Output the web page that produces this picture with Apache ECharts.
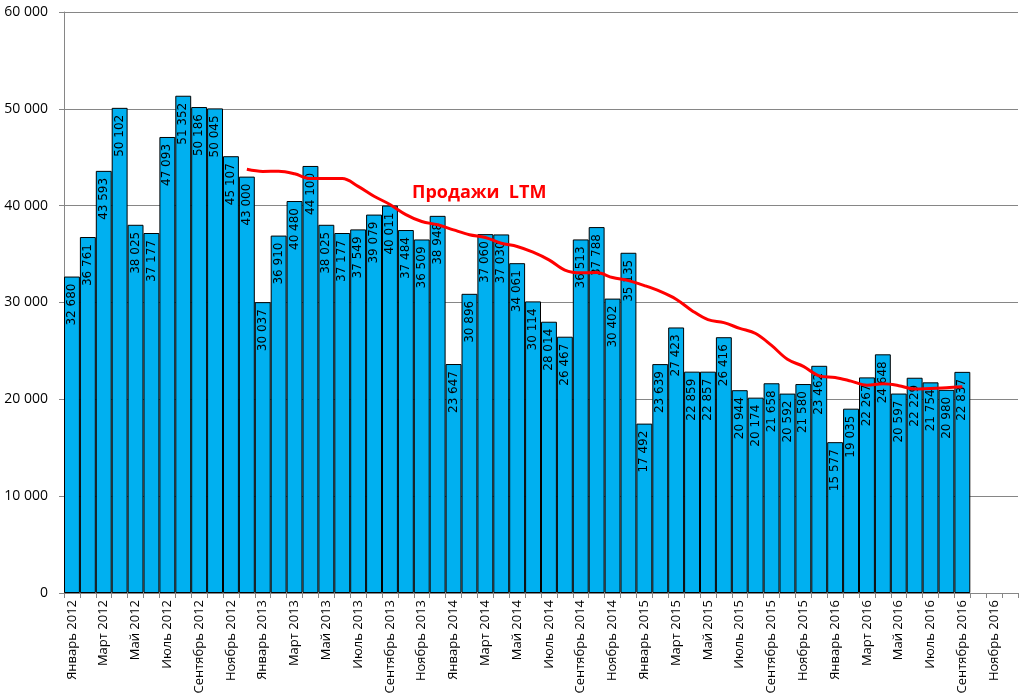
<!DOCTYPE html>
<html>
<head>
<meta charset="utf-8">
<script src="https://cdn.jsdelivr.net/npm/echarts@6/dist/echarts.min.js"></script>
<style>html,body{margin:0;padding:0;background:#fff;}#c{width:1026px;height:698px;}</style>
</head>
<body>
<div id="c"></div>
<script>
const months = ['Январь','Февраль','Март','Апрель','Май','Июнь','Июль','Август','Сентябрь','Октябрь','Ноябрь','Декабрь'];
const years = [2012, 2013, 2014, 2015, 2016];
const categories = [];
years.forEach(y => months.forEach(m => categories.push(m + ' ' + y)));

const sales = [
  32680, 36761, 43593, 50102, 38025, 37177, 47093, 51352, 50186, 50045, 45107, 43000,
  30037, 36910, 40480, 44100, 38025, 37177, 37549, 39079, 40011, 37484, 36509, 38948,
  23647, 30896, 37060, 37030, 34061, 30114, 28014, 26467, 36513, 37788, 30402, 35135,
  17492, 23639, 27423, 22859, 22857, 26416, 20944, 20174, 21658, 20592, 21580, 23462,
  15577, 19035, 22267, 24648, 20597, 22229, 21754, 20980, 22837, null, null, null
];

const ltm = [
  null, null, null, null, null, null, null, null, null, null, null, 43760,
  43540, 43552, 43293, 42793, 42793, 42793, 41997, 40975, 40127, 39080, 38363, 38026,
  37493, 36992, 36707, 36118, 35788, 35199, 34404, 33353, 33062, 33087, 32578, 32261,
  31748, 31143, 30340, 29159, 28225, 27917, 27328, 26804, 25566, 24133, 23397, 22425,
  22265, 21881, 21452, 21601, 21413, 21064, 21131, 21198, 21297, null, null, null
];

const ltmTitle = 'Продажи  LTM';

function fmt(v) {
  return String(v).replace(/\B(?=(\d{3})+(?!\d))/g, ' ');
}

const chart = echarts.init(document.getElementById('c'), null, {renderer: 'canvas'});
chart.setOption({
  animation: false,
  backgroundColor: '#fff',
  title: {
    text: ltmTitle,
    left: 407, top: 179,
    textStyle: {color: '#FF0000', fontSize: 18, fontWeight: 'bold', fontFamily: 'Open Sans'}
  },
  grid: {left: 64, right: 8, top: 12, bottom: 105, containLabel: false, outerBoundsMode: 'none'},
  xAxis: {
    type: 'category',
    data: categories,
    boundaryGap: true,
    axisLine: {lineStyle: {color: '#868686', width: 1}},
    axisTick: {show: true, interval: 0, alignWithLabel: false, length: 5, lineStyle: {color: '#868686'}},
    axisLabel: {interval: 1, rotate: 90, margin: 7, color: '#000', fontSize: 13, fontFamily: 'Open Sans'},
    splitLine: {show: false}
  },
  yAxis: {
    type: 'value',
    min: 0, max: 60000, interval: 10000,
    axisLine: {show: true, lineStyle: {color: '#868686', width: 1}},
    axisTick: {show: true, length: 5, lineStyle: {color: '#868686'}},
    axisLabel: {color: '#000', fontSize: 14, fontFamily: 'Open Sans', margin: 16, formatter: v => fmt(v)},
    splitLine: {show: true, lineStyle: {color: '#868686', width: 1}}
  },
  series: [
    {
      type: 'bar',
      data: sales,
      barCategoryGap: '0%',
      itemStyle: {color: '#00B0F0', borderColor: '#000', borderWidth: 1},
      label: {
        show: true,
        position: 'insideTop',
        rotate: 90,
        align: 'right',
        verticalAlign: 'middle',
        distance: 7,
        color: '#000',
        fontSize: 12,
        fontFamily: 'DejaVu Sans',
        formatter: p => fmt(p.value)
      },
      z: 2
    },
    {
      type: 'line',
      data: ltm,
      smooth: 0.35,
      showSymbol: false,
      connectNulls: false,
      lineStyle: {color: '#FF0000', width: 3},
      z: 5
    }
  ]
});
</script>
</body>
</html>
